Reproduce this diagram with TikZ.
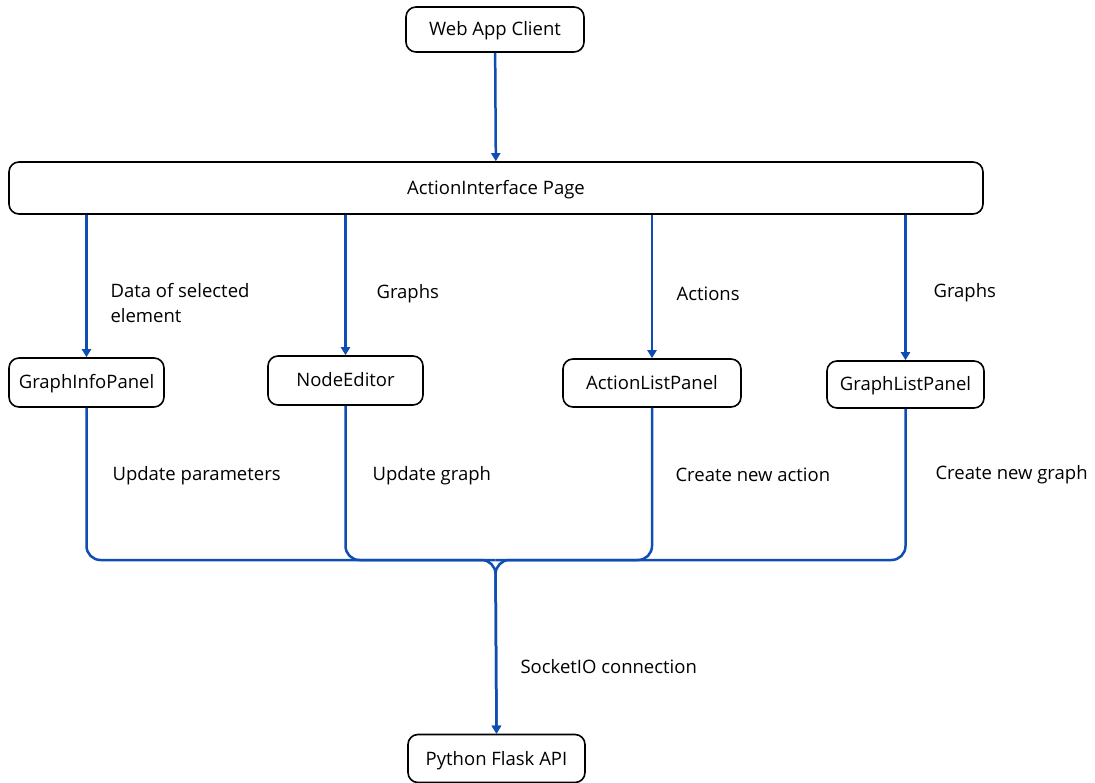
\documentclass[tikz,border=0pt]{standalone}
\usepackage{fontspec}
\setmainfont{Open Sans}
\usepackage{tikz}
\usetikzlibrary{arrows.meta}

\definecolor{flowblue}{RGB}{14,77,178}

\tikzset{
  block/.style={draw=black, line width=1.6pt, rounded corners=10pt, fill=white,
    inner sep=0pt, text height=13pt, text depth=0pt, font=\fontsize{18.5}{20}\selectfont},
  flow/.style={draw=flowblue, line width=2.5pt, rounded corners=14pt},
  flowarrow/.style={flow, -{Triangle[width=9pt,length=8pt]}},
  lbl/.style={anchor=west, align=left, font=\fontsize{18.5}{25}\selectfont}
}

\begin{document}
\begin{tikzpicture}[x=1pt,y=-1pt]
    \useasboundingbox (0,0) rectangle (1095,783);
    %% Boxes
    \node[block, minimum width=178pt, minimum height=45pt] (client) at (495,29.5) {Web App Client};
    \node[block, minimum width=974pt, minimum height=52pt] (page) at (496,188) {ActionInterface Page};
    \node[block, minimum width=155pt, minimum height=49pt] (infopanel) at (86.5,382.5) {GraphInfoPanel};
    \node[block, minimum width=155pt, minimum height=49pt] (editor) at (345.5,380.5) {NodeEditor};
    \node[block, minimum width=178pt, minimum height=48pt] (actionlist) at (652,383) {ActionListPanel};
    \node[block, minimum width=157pt, minimum height=47pt] (graphlist) at (905.5,384.5) {GraphListPanel};
    \node[block, minimum width=177pt, minimum height=48pt] (api) at (496.5,758.5) {Python Flask API};
    \coordinate (merge) at (495.5,560);
    %% Top arrows
    \draw[flowarrow] (client) -- (page);
    \draw[flowarrow] (page.south -| infopanel) -- (infopanel);
    \draw[flowarrow] (page.south -| editor) -- (editor);
    \draw[flowarrow] (page.south -| actionlist) -- (actionlist);
    \draw[flowarrow] (page.south -| graphlist) -- (graphlist);
    %% Merging lines
    \draw[flow] (editor.south) |- (merge);
    \draw[flow] (actionlist.south) |- (merge);
    \draw[flowarrow] (infopanel.south) |- (merge) -- (api.north);
    \draw[flowarrow] (graphlist.south) |- (merge) -- (api.north);
    %% Labels
    \node[lbl] (l1) at (107,303) {Data of selected\\element};
    \node[lbl] (l2) at (373,294) {Graphs};
    \node[lbl] (l3) at (673,294) {Actions};
    \node[lbl] (l4) at (930,293) {Graphs};
    \node[lbl] (l5) at (109,476) {Update parameters};
    \node[lbl] (l6) at (369,476) {Update graph};
    \node[lbl] (l7) at (672,475) {Create new action};
    \node[lbl] (l8) at (932,475) {Create new graph};
    \node[lbl] (l9) at (517,667) {SocketIO connection};
\end{tikzpicture}
\end{document}
